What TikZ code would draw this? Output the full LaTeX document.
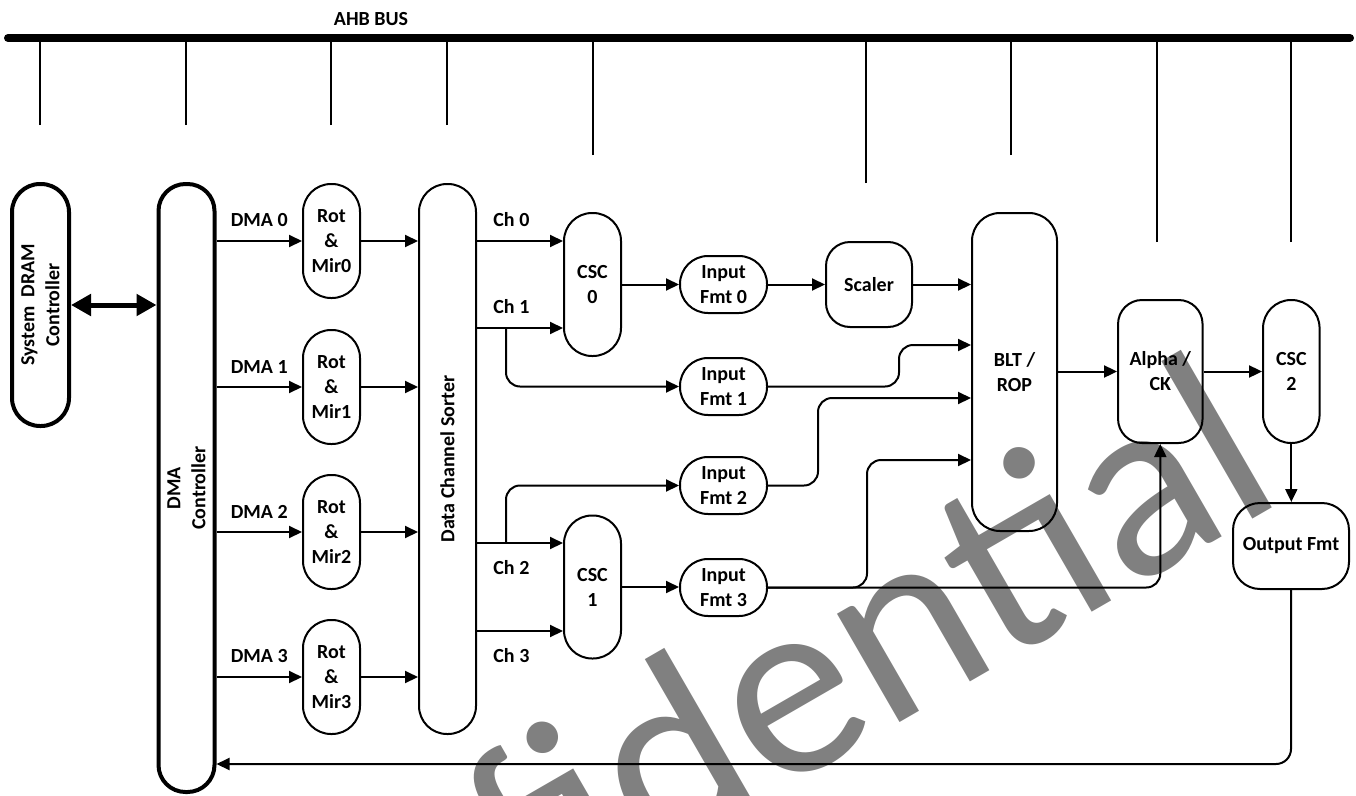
\documentclass[tikz,border=0pt]{standalone}
\usepackage{fontspec}
\setmainfont{Carlito}
\usetikzlibrary{arrows.meta,calc}
\definecolor{wmgrey}{RGB}{128,128,128}

\begin{document}
\begin{tikzpicture}[x=1pt,y=1pt,yscale=-1,
  blk/.style={draw, line width=2pt, inner sep=0pt, align=center, font=\bfseries\fontsize{20}{25}\selectfont},
  pill/.style={blk, minimum width=57pt, rounded corners=28pt},
  lab/.style={inner sep=0pt, align=center, font=\bfseries\fontsize{20}{25}\selectfont},
  flow/.style={line width=2pt, -{Triangle[length=13pt,width=12pt]}},
  tap/.style={line width=2pt}]
\useasboundingbox (0,0) rectangle (1356,795);

% Watermark
\begin{scope}
\clip (0,0) rectangle (1356,795);
\node[anchor=base east, rotate=30, inner sep=0pt, text=wmgrey, font=\fontsize{262}{262}\selectfont] (wm) at (1289,498) {Confidential};
\end{scope}

%Bus
\coordinate (busL) at (8,38);
\coordinate (busR) at (1350,38);
\foreach \x/\y [count=\k] in {40/125,186/125,331/125,447/125,593/155,866/183,1011/155,1157/242,1291/242}{
  \coordinate (tap\k) at (\x,\y);
  \draw[tap] (tap\k) -- (tap\k |- busL);
}
\draw[line width=8pt, line cap=round] (busL) -- (busR);
% Text Node
\node[lab] (ahb) at (371,19) {AHB BUS};

%Shape: DRAM and DMA controllers
\node[blk, line width=4pt, minimum width=57pt, minimum height=242pt, rounded corners=28pt] (dram) at (40.5,305) {};
\node[lab, rotate=90] (dramtxt) at (dram) {System\ \ DRAM\\Controller};
\node[blk, line width=4pt, minimum width=56pt, minimum height=608pt, rounded corners=27pt] (dma) at (186.5,488) {};
\node[lab, rotate=90] (dmatxt) at (dma) {DMA\\Controller};
\draw[line width=5pt, {Triangle[length=20pt,width=21pt]}-{Triangle[length=20pt,width=21pt]}] (dram.east) -- (dram.east -| dma.west);

%Shape: sorter
\node[pill, minimum height=550pt] (sorter) at (447.5,459) {};
\node[lab, rotate=90] (sortertxt) at (sorter) {Data Channel Sorter};

%Rot & Mir
\foreach \i/\y in {0/241,1/387,2/532,3/677}{
  \node[pill, minimum height=114pt] (rot\i) at (331.5,\y) {Rot\\\&\\Mir\i};
  \draw[flow] (rot\i.west -| dma.east) -- node[lab, above=13pt, midway] (dmal\i) {DMA \i} (rot\i.west);
  \draw[flow] (rot\i.east) -- (rot\i.east -| sorter.west);
}

%Shape: CSC
\node[pill, minimum height=143pt] (csc0) at (592.5,284.5) {CSC\\0};
\node[pill, minimum height=143pt] (csc1) at (592.5,587) {CSC\\1};
\coordinate (ch0) at ($(csc0.west)+(0,-43.5)$);
\coordinate (ch1) at ($(csc0.west)+(0,43.5)$);
\coordinate (ch2) at ($(csc1.west)+(0,-44)$);
\coordinate (ch3) at ($(csc1.west)+(0,44)$);
\draw[flow] (ch0 -| sorter.east) -- node[lab, above=13pt, pos=0.4] (chl0) {Ch 0} (ch0);
\draw[flow] (ch1 -| sorter.east) -- node[lab, above=13pt, pos=0.4] (chl1) {Ch 1} (ch1);
\draw[flow] (ch2 -| sorter.east) -- node[lab, below=16pt, pos=0.4] (chl2) {Ch 2} (ch2);
\draw[flow] (ch3 -| sorter.east) -- node[lab, below=16pt, pos=0.4] (chl3) {Ch 3} (ch3);

%Shape: input formats
\foreach \i/\y in {0/284.5,1/386.5,2/485.5,3/587.5}{
  \node[blk, minimum width=87pt, minimum height=57pt, rounded corners=28pt] (in\i) at (723.5,\y) {Input\\Fmt \i};
}
\coordinate (sp1) at ($(ch1)+(-57,0)$);
\coordinate (sp2) at ($(ch2)+(-57,0)$);
\draw[flow, rounded corners=14pt] (sp1) |- (in1.west);
\draw[flow, rounded corners=14pt] (sp2) |- (in2.west);
\draw[flow] (csc0.east) -- (in0.west);
\draw[flow] (csc1.east) -- (csc1.east -| in3.west);

%Shape: scaler, BLT, alpha, CSC2, output
\node[blk, minimum width=86pt, minimum height=85pt, rounded corners=24pt] (scaler) at (869,284.5) {Scaler};
\node[blk, minimum width=85pt, minimum height=318pt, rounded corners=28pt] (blt) at (1014.5,372) {BLT /\\ROP};
\node[blk, minimum width=84.5pt, minimum height=143pt, rounded corners=24pt] (alpha) at (1160.3,371.5) {Alpha /\\CK};
\node[pill, minimum width=56.5pt, minimum height=143pt] (csc2) at (1291.3,371.5) {CSC\\2};
\node[blk, minimum width=116pt, minimum height=86pt, rounded corners=27pt] (outfmt) at (1291,546) {Output Fmt};

\draw[flow] (in0.east) -- (scaler.west);
\draw[flow] (scaler.east) -- (scaler.east -| blt.west);
\coordinate (j1) at (899,345);
\coordinate (j2) at (818,398);
\coordinate (j3) at (867,460);
\draw[flow, rounded corners=14pt] (in1.east) -| (j1) -- (j1 -| blt.west);
\draw[flow, rounded corners=14pt] (in2.east) -| (j2) -- (j2 -| blt.west);
\draw[flow, rounded corners=14pt] (in3.east) -| (j3) -- (j3 -| blt.west);
\draw[flow, rounded corners=14pt] (in3.east) -| (alpha.south);
\draw[flow] (alpha.west -| blt.east) -- (alpha.west);
\draw[flow] (alpha.east) -- (csc2.west);
\draw[flow] (csc2.south) -- (csc2.south |- outfmt.north);
\coordinate (fb) at (1291,764);
\draw[flow, rounded corners=15pt] (outfmt.south) |- (fb -| dma.east);

\end{tikzpicture}
\end{document}
